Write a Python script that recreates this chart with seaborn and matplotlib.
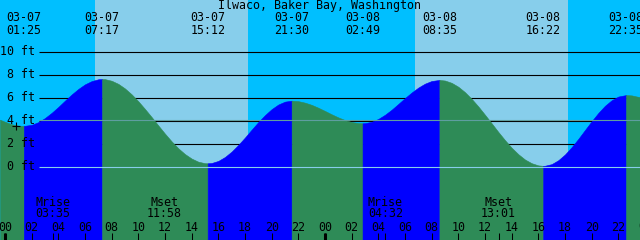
import numpy as np
import pandas as pd
import matplotlib
matplotlib.use("Agg")
import matplotlib.pyplot as plt
import seaborn as sns

# ---------------- data ----------------
title = "Ilwaco, Baker Bay, Washington"
tide_dates = ["03-07", "03-07", "03-07", "03-07", "03-08", "03-08", "03-08", "03-08"]
tide_times = ["01:25", "07:17", "15:12", "21:30", "02:49", "08:35", "16:22", "22:35"]
tide_day = [0, 0, 0, 0, 1, 1, 1, 1]

# tide level (ft), hours since 03-07 00:00
curve_hours = [
    -0.375, 0, 0.5, 1, 1.417, 2, 2.5, 3, 3.5, 4, 4.5, 5, 5.5, 6, 6.5, 7, 7.283,
    7.5, 8, 8.5, 9, 9.5, 10, 10.5, 11, 11.5, 12, 12.5, 13, 13.5, 14, 14.5, 15, 15.2,
    15.5, 16, 16.5, 17, 17.5, 18, 18.5, 19, 19.5, 20, 20.5, 21, 21.5,
    22, 22.5, 23, 23.5, 24, 24.5, 25, 25.5, 26, 26.5, 26.817,
    27, 27.5, 28, 28.5, 29, 29.5, 30, 30.5, 31, 31.5, 32, 32.583,
    33, 33.5, 34, 34.5, 35, 35.5, 36, 36.5, 37, 37.5, 38, 38.5, 39, 39.5, 40, 40.367,
    40.5, 41, 41.5, 42, 42.5, 43, 43.5, 44, 44.5, 45, 45.5, 46, 46.583,
    47, 47.625]
curve_heights = [
    4.10, 3.92, 3.71, 3.59, 3.56, 3.66, 3.89, 4.25, 4.70, 5.21, 5.76, 6.29, 6.77, 7.17, 7.45, 7.61, 7.63,
    7.62, 7.48, 7.21, 6.81, 6.30, 5.70, 5.03, 4.33, 3.60, 2.89, 2.22, 1.62, 1.12, 0.73, 0.46, 0.33, 0.32,
    0.35, 0.53, 0.87, 1.34, 1.92, 2.56, 3.24, 3.90, 4.50, 5.02, 5.42, 5.67, 5.75,
    5.71, 5.58, 5.39, 5.14, 4.86, 4.57, 4.30, 4.07, 3.90, 3.81, 3.79,
    3.80, 3.92, 4.17, 4.53, 4.97, 5.47, 5.98, 6.46, 6.89, 7.23, 7.46, 7.55,
    7.50, 7.30, 6.96, 6.49, 5.91, 5.25, 4.53, 3.79, 3.04, 2.33, 1.67, 1.11, 0.65, 0.33, 0.14, 0.10,
    0.11, 0.25, 0.59, 1.09, 1.72, 2.44, 3.21, 3.97, 4.69, 5.31, 5.79, 6.11, 6.24,
    6.21, 6.05]

sunrise_hours = [6.75, 30.75]
sunset_hours = [18.23, 42.23]

moon_labels = ["Mrise", "Mset", "Mrise", "Mset"]
moon_times = ["03:35", "11:58", "04:32", "13:01"]
moon_day = [0, 0, 1, 1]

ft_levels = [0, 2, 4, 6, 8, 10]
ft_labels = ["0 ft", "2 ft", "4 ft", "6 ft", "8 ft", "10 ft"]
msl_level = 4.08
hour_ticks = list(range(0, 49, 2))
hour_labels = [f"{h % 24:02d}" for h in hour_ticks]
mark_hour = [0.83]
mark_height = [3.56]

# ---------------- style ----------------
NIGHT = "#00BFFF"
DAY = "#87CEEB"
RISE = "#0000FF"
FALL = "#2E8B57"
DATUM = "#87CEEB"
MSL = "#5F9EA0"

sns.set_theme(style="white")
plt.rcParams["font.family"] = ["DejaVu Sans Mono", "DejaVu Sans"]
FS = 8.4
W, H = 640, 240

def hm(s, day):
    a, b = s.split(":")
    return day * 24 + int(a) + int(b) / 60.0

# pixel <-> data helpers (layout only)
PX_PER_H = 13.333
X0_PX = 5.0
PX_PER_FT = 11.53
Y0_PX = 167.0
def hx(px):
    return (px - X0_PX) / PX_PER_H
def fy(py):
    return (Y0_PX - py) / PX_PER_FT
def yfrac(py):
    return 1 - py / H

fig = plt.figure(figsize=(W / 100, H / 100), dpi=100)
ax = fig.add_axes([0, 0, 1, 1])
ax.set_xlim(hx(0), hx(W))
YMIN, YMAX = fy(H), fy(0)
ax.set_ylim(YMIN, YMAX)
for s in ax.spines.values():
    s.set_visible(False)
ax.set_facecolor(NIGHT)
ax.set_axisbelow(False)

for a, b in zip(sunrise_hours, sunset_hours):
    ax.axvspan(a, b, color=DAY, lw=0, zorder=0)

# grid lines (under the water)
ax.hlines(ft_levels, hx(39), hx(W), colors="black", lw=0.8, zorder=1)

# tide curve, coloured by rising / falling
df = pd.DataFrame({"hour": curve_hours, "ft": curve_heights})
y = df["ft"].to_numpy()
d = np.sign(np.diff(y))
start = 0
for i in range(1, len(d) + 1):
    if i == len(d) or d[i] != d[start]:
        seg = df.iloc[start:i + 1]
        col = RISE if d[start] > 0 else FALL
        ax.fill_between(seg["hour"], seg["ft"], YMIN, color=col, lw=0.4,
                        edgecolor=col, zorder=1.5)
        start = i

# datum and mean sea level lines over water
ax.hlines([0], hx(39), hx(W), colors=DATUM, lw=0.8, zorder=3)
ax.hlines([msl_level], hx(39), hx(W), colors=MSL, lw=0.8, zorder=3)

sns.scatterplot(x=mark_hour, y=mark_height, marker="+", s=40, color="black",
                linewidth=0.8, ax=ax, zorder=6, legend=False)

tr = ax.get_xaxis_transform()
# y labels
for lv, lab in zip(ft_levels, ft_labels):
    py = Y0_PX - lv * PX_PER_FT
    ax.text(hx(35), yfrac(py + 3.5), lab, transform=tr,
            ha="right", va="baseline", fontsize=FS, color="black", zorder=7)

# title
ax.text(hx(320), yfrac(9.5), title, transform=tr,
        ha="center", va="baseline", fontsize=FS, color="black", zorder=7)

# tide event labels
for dt, tm, dd in zip(tide_dates, tide_times, tide_day):
    h = hm(tm, dd)
    ax.text(h, yfrac(21), dt, transform=tr,
            ha="center", va="baseline", fontsize=FS, color="black", zorder=7)
    ax.text(h, yfrac(33.5), tm, transform=tr,
            ha="center", va="baseline", fontsize=FS, color="black", zorder=7)

# moon labels
moon_hours = [hm(t, dd) for t, dd in zip(moon_times, moon_day)]
for lab, tm, h in zip(moon_labels, moon_times, moon_hours):
    ax.text(h, yfrac(206), lab, transform=tr,
            ha="center", va="baseline", fontsize=FS, color="black", zorder=7)
    ax.text(h, yfrac(217), tm, transform=tr,
            ha="center", va="baseline", fontsize=FS, color="black", zorder=7)

# hour axis
ax.set_yticks([])
vis = [(t, l) for t, l in zip(hour_ticks, hour_labels) if hx(0) <= t <= hx(W)]
ax.set_xticks([t for t, _ in vis])
ax.set_xticklabels([l for _, l in vis])
ax.set_xticks(moon_hours, minor=True)
ax.tick_params(axis="x", which="major", direction="in", length=5.3, width=0.75,
               color="black", pad=-13.6, labelsize=FS, labelcolor="black",
               bottom=True)
ax.tick_params(axis="x", which="minor", direction="in", length=5.3, width=0.75,
               color="black", bottom=True)
for t, l in zip(hour_ticks, hour_labels):
    if t > hx(W):
        ax.text(t, yfrac(230), l, transform=tr,
                ha="center", va="baseline", fontsize=FS, color="black", zorder=7)
ax.vlines([0, 24], 0, 7.5 / H, transform=tr, colors="black", lw=2.2, zorder=7)

fig.savefig("out.png", dpi=100)
